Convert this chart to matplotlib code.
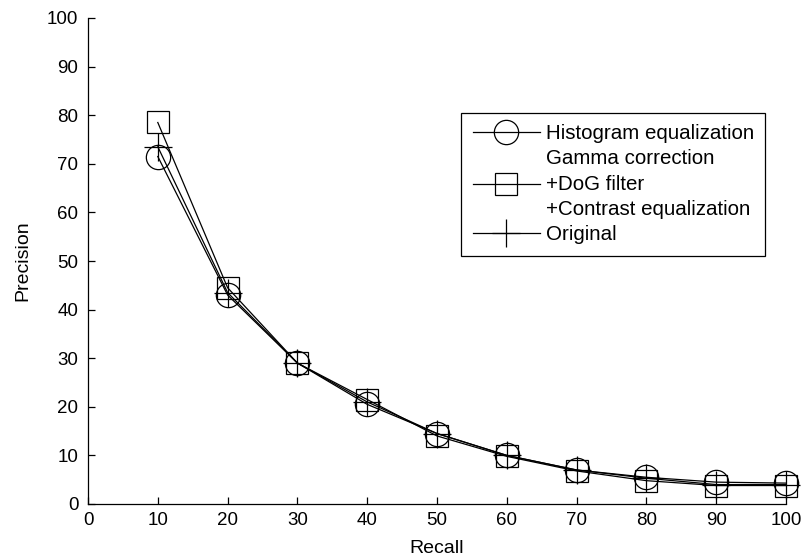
import matplotlib
matplotlib.use("Agg")
import matplotlib.pyplot as plt

recall = [10, 20, 30, 40, 50, 60, 70, 80, 90, 100]
hist_eq = [71.5, 43.0, 29.0, 20.5, 14.5, 10.0, 7.0, 5.5, 4.5, 4.3]
gamma_dog = [78.5, 44.5, 29.0, 21.5, 14.0, 9.8, 6.8, 4.8, 3.8, 3.8]
original = [73.5, 43.5, 29.0, 21.0, 14.5, 10.0, 7.0, 5.3, 4.0, 4.0]

labels = ["Histogram equalization",
          "Gamma correction\n+DoG filter\n+Contrast equalization",
          "Original"]
ticks = list(range(0, 101, 10))

plt.rcParams['font.family'] = ['Liberation Sans', 'DejaVu Sans']
plt.rcParams['font.size'] = 14

fig = plt.figure(figsize=(8.01, 5.6), dpi=100)
ax = fig.add_axes([88 / 801, 56 / 560, 698 / 801, 486 / 560])

style = dict(color='black', lw=0.9, mfc='none', mec='black', mew=0.9,
             clip_on=False)
ax.plot(recall, hist_eq, marker='o', ms=17.5, label=labels[0], **style)
ax.plot(recall, gamma_dog, marker='s', ms=16, label=labels[1], **style)
ax.plot(recall, original, marker='+', ms=20, label=labels[2], **style)

ax.set_xlim(0, 100)
ax.set_ylim(0, 100)
ax.set_xticks(ticks)
ax.set_yticks(ticks)
ax.set_xticklabels([str(t) for t in ticks], fontsize=13.5)
ax.set_yticklabels([str(t) for t in ticks], fontsize=13.5)
ax.set_xlabel("Recall", labelpad=8)
ax.set_ylabel("Precision", labelpad=11)
for s in ('top', 'right'):
    ax.spines[s].set_visible(False)
for s in ('left', 'bottom'):
    ax.spines[s].set_linewidth(0.9)
ax.tick_params(direction='in', length=5, width=0.9)
ax.tick_params(axis='x', pad=6)
ax.tick_params(axis='y', pad=7)

leg = ax.legend(loc='upper right', bbox_to_anchor=(0.97, 0.805),
                prop=dict(size=14.8),
                handlelength=3.3, handletextpad=0.25, borderpad=0.55,
                labelspacing=0.3, fancybox=False, framealpha=1,
                edgecolor='black', borderaxespad=0)
leg.get_frame().set_linewidth(0.9)
for t in leg.get_texts():
    t.set_linespacing(1.43)

fig.savefig("out.png", dpi=100)
